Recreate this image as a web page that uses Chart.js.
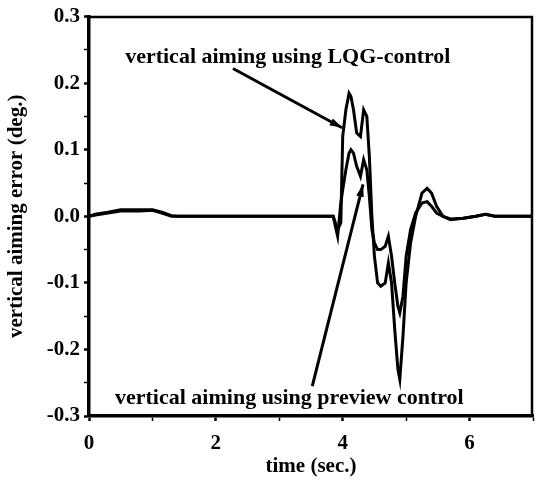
<!DOCTYPE html>
<html>
<head>
<meta charset="utf-8">
<script src="https://cdn.jsdelivr.net/npm/chart.js@4"></script>
<style>
  html, body { margin: 0; padding: 0; background: #fff; }
  #wrap { width: 538px; height: 485px; }
</style>
</head>
<body>
<div id="wrap"><canvas id="aimChart"></canvas></div>
<script>
// time samples (sec.)
const times = [0, 0.1, 0.3, 0.5, 0.8, 1.0, 1.15, 1.3, 1.4, 3.85, 3.92, 3.97, 4.0, 4.05, 4.1, 4.13, 4.17, 4.22, 4.28, 4.33, 4.38, 4.42, 4.46, 4.5, 4.55, 4.6, 4.67, 4.72, 4.77, 4.82, 4.87, 4.9, 4.95, 5.0, 5.07, 5.15, 5.25, 5.33, 5.4, 5.48, 5.58, 5.7, 5.9, 6.1, 6.25, 6.4, 7.0];
// vertical aiming error (deg.), LQG-control
const lqgErr = [0, 0.003, 0.006, 0.01, 0.01, 0.01, 0.006, 0.001, 0, 0, -0.02, -0.01, 0.12, 0.16, 0.185, 0.18, 0.16, 0.125, 0.12, 0.16, 0.15, 0.09, 0.0, -0.06, -0.1, -0.105, -0.1, -0.07, -0.1, -0.17, -0.23, -0.245, -0.18, -0.1, -0.04, 0.0, 0.035, 0.042, 0.035, 0.015, 0.0, -0.005, -0.003, 0.0, 0.003, 0, 0];
// vertical aiming error (deg.), preview control
const previewErr = [0, 0.002, 0.005, 0.008, 0.008, 0.009, 0.005, 0.0, 0, 0, -0.03, 0.02, 0.04, 0.07, 0.095, 0.1, 0.095, 0.075, 0.06, 0.085, 0.07, 0.03, -0.02, -0.04, -0.05, -0.05, -0.045, -0.03, -0.06, -0.1, -0.135, -0.145, -0.12, -0.06, -0.02, 0.005, 0.02, 0.022, 0.015, 0.005, 0.0, -0.004, -0.003, 0.0, 0.003, 0, 0];

const xTicks = [0, 1, 2, 3, 4, 5, 6, 7];
const xLabels = [0, 2, 4, 6];
const yTicks = [-0.3, -0.25, -0.2, -0.15, -0.1, -0.05, 0, 0.05, 0.1, 0.15, 0.2, 0.25, 0.3];
const yLabels = [-0.3, -0.2, -0.1, 0, 0.1, 0.2, 0.3];

// annotation text + arrows, in data coordinates [t, value]
const notes = [
  { text: 'vertical aiming using LQG-control', at: [0.57, 0.23], tail: [2.27, 0.222], head: [3.99, 0.133] },
  { text: 'vertical aiming using preview control', at: [0.41, -0.282], tail: [3.52, -0.255], head: [4.32, 0.048] }
];

const serif = '"Liberation Serif", "DejaVu Serif", serif';
const isLabel = (list, v) => list.some(l => Math.abs(l - v) < 1e-6);

const annotate = {
  id: 'annotate',
  afterDraw(chart){
    const { ctx, chartArea: a, scales: { x, y } } = chart;
    ctx.save();
    // frame top/right
    ctx.strokeStyle = '#000';
    ctx.lineWidth = 2.5;
    ctx.beginPath();
    ctx.moveTo(a.left, a.top + 0.5);
    ctx.lineTo(a.right - 1, a.top + 0.5);
    ctx.lineTo(a.right - 1, a.bottom);
    ctx.stroke();
    ctx.font = 'bold 22px ' + serif;
    ctx.fillStyle = '#000';
    ctx.textBaseline = 'alphabetic';
    for(const n of notes){
      ctx.fillText(n.text, x.getPixelForValue(n.at[0]), y.getPixelForValue(n.at[1]));
      const x0 = x.getPixelForValue(n.tail[0]), y0 = y.getPixelForValue(n.tail[1]);
      const x1 = x.getPixelForValue(n.head[0]), y1 = y.getPixelForValue(n.head[1]);
      ctx.lineWidth = 3;
      ctx.beginPath(); ctx.moveTo(x0, y0); ctx.lineTo(x1, y1); ctx.stroke();
      const ang = Math.atan2(y1 - y0, x1 - x0);
      ctx.beginPath();
      ctx.moveTo(x1, y1);
      ctx.lineTo(x1 - 13 * Math.cos(ang - 0.3), y1 - 13 * Math.sin(ang - 0.3));
      ctx.lineTo(x1 - 13 * Math.cos(ang + 0.3), y1 - 13 * Math.sin(ang + 0.3));
      ctx.closePath(); ctx.fill();
    }
    ctx.restore();
  }
};

const series = (vals) => times.map((t, i) => ({ x: t, y: vals[i] }));

new Chart(document.getElementById('aimChart'), {
  type: 'line',
  data: {
    datasets: [
      { label: 'LQG-control', data: series(lqgErr), borderColor: '#000', borderWidth: 3, pointRadius: 0, tension: 0, fill: false },
      { label: 'preview control', data: series(previewErr), borderColor: '#000', borderWidth: 3, pointRadius: 0, tension: 0, fill: false }
    ]
  },
  options: {
    responsive: true,
    maintainAspectRatio: false,
    animation: false,
    layout: { padding: { left: 0, right: 5, top: 16, bottom: 0 } },
    plugins: { legend: { display: false }, tooltip: { enabled: false } },
    scales: {
      x: {
        type: 'linear', min: 0, max: 7,
        afterBuildTicks: s => { s.ticks = xTicks.map(v => ({ value: v })); },
        afterFit: s => { s.height = 69; s.paddingLeft = 0; s.paddingRight = 0; },
        ticks: {
          color: '#000', padding: 10, font: { family: serif, size: 21, weight: 'bold' },
          callback: v => isLabel(xLabels, v) ? String(v) : ''
        },
        grid: { drawOnChartArea: false, drawTicks: true, tickLength: 5, color: '#000',
                tickWidth: c => isLabel(xLabels, c.tick.value) ? 2.5 : 1.5 },
        border: { display: true, color: '#000', width: 3.5 },
        title: { display: true, text: 'time (sec.)', color: '#000', padding: { top: 0, bottom: 6 },
                 font: { family: serif, size: 21, weight: 'bold' } }
      },
      y: {
        min: -0.3, max: 0.3,
        afterBuildTicks: s => { s.ticks = yTicks.map(v => ({ value: v })); },
        afterFit: s => { s.width = 89; },
        ticks: {
          color: '#000', padding: 4, font: { family: serif, size: 21, weight: 'bold' },
          callback: v => isLabel(yLabels, v) ? v.toFixed(1) : ''
        },
        grid: { drawOnChartArea: false, drawTicks: true, tickLength: 5, color: '#000',
                tickWidth: c => isLabel(yLabels, c.tick.value) ? 2.5 : 1.5 },
        border: { display: true, color: '#000', width: 3.5 },
        title: { display: true, text: 'vertical aiming error (deg.)', color: '#000', padding: { top: 4, bottom: 0 },
                 font: { family: serif, size: 21, weight: 'bold' } }
      }
    }
  },
  plugins: [annotate]
});
</script>
</body>
</html>
